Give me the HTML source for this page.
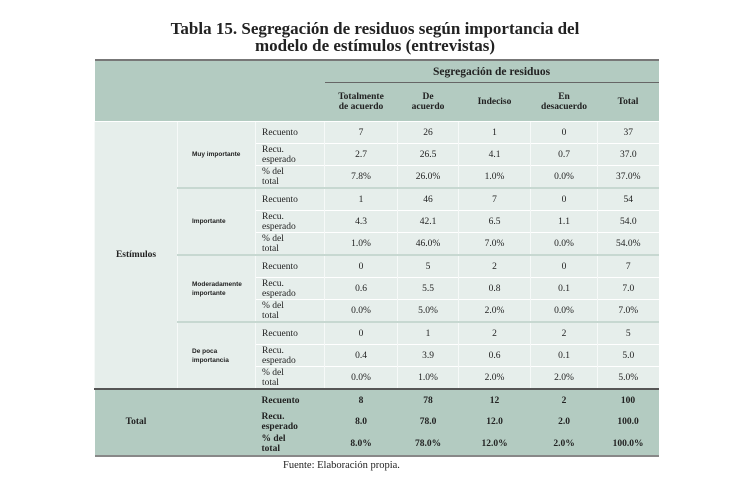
<!DOCTYPE html>
<html><head><meta charset="utf-8"><style>
body{margin:0;width:750px;height:490px;background:#fff;position:relative;font-family:"Liberation Serif",serif;color:#222}
.t{position:absolute;left:0;width:750px;text-align:center;font-weight:bold;font-size:17px;line-height:17px}
table{position:absolute;left:94px;top:59px;border-collapse:collapse;table-layout:fixed;width:564px;font-size:9.5px}
td{padding:0;text-align:center;vertical-align:middle;line-height:10px}
.h td{background:#b3cbc1;font-weight:bold}
.b td{background:#e6eeeb;height:21px;border-top:1px solid #fff;border-left:1px solid #f6f9f8}
.b td.l{text-align:left;padding-left:6px}
.g td{border-top:2px solid #c7d8d1}
.cat{font-family:"Liberation Sans",sans-serif;font-weight:bold;font-size:6.5px;text-align:left!important;padding-left:14px!important;line-height:9px}
.tot td{background:#b3cbc1;font-weight:bold;height:21.5px;border-top:none}
.tot td.l{text-align:left;padding-left:6px}
</style></head><body>
<div class="t" style="top:20px">Tabla 15. Segregación de residuos según importancia del</div>
<div class="t" style="top:37px">modelo de estímulos (entrevistas)</div>
<table>
<colgroup><col style="width:83px"><col style="width:78px"><col style="width:69px"><col style="width:73px"><col style="width:61px"><col style="width:72px"><col style="width:67px"><col style="width:61px"></colgroup>
<tr class="h"><td colspan="3" rowspan="2" style="border-top:2px solid #777"></td><td colspan="5" style="height:21px;border-top:2px solid #777;border-bottom:1px solid #666;font-size:11.5px">Segregación de residuos</td></tr>
<tr class="h"><td style="height:38px">Totalmente<br>de acuerdo</td><td>De<br>acuerdo</td><td>Indeciso</td><td>En<br>desacuerdo</td><td>Total</td></tr>

<tr class="b"><td rowspan="12" style="font-weight:bold">Estímulos</td><td rowspan="3" class="cat">Muy importante</td><td class="l">Recuento</td><td>7</td><td>26</td><td>1</td><td>0</td><td>37</td></tr>
<tr class="b"><td class="l">Recu.<br>esperado</td><td>2.7</td><td>26.5</td><td>4.1</td><td>0.7</td><td>37.0</td></tr>
<tr class="b"><td class="l">% del<br>total</td><td>7.8%</td><td>26.0%</td><td>1.0%</td><td>0.0%</td><td>37.0%</td></tr>

<tr class="b g"><td rowspan="3" class="cat">Importante</td><td class="l">Recuento</td><td>1</td><td>46</td><td>7</td><td>0</td><td>54</td></tr>
<tr class="b"><td class="l">Recu.<br>esperado</td><td>4.3</td><td>42.1</td><td>6.5</td><td>1.1</td><td>54.0</td></tr>
<tr class="b"><td class="l">% del<br>total</td><td>1.0%</td><td>46.0%</td><td>7.0%</td><td>0.0%</td><td>54.0%</td></tr>

<tr class="b g"><td rowspan="3" class="cat">Moderadamente<br>importante</td><td class="l">Recuento</td><td>0</td><td>5</td><td>2</td><td>0</td><td>7</td></tr>
<tr class="b"><td class="l">Recu.<br>esperado</td><td>0.6</td><td>5.5</td><td>0.8</td><td>0.1</td><td>7.0</td></tr>
<tr class="b"><td class="l">% del<br>total</td><td>0.0%</td><td>5.0%</td><td>2.0%</td><td>0.0%</td><td>7.0%</td></tr>

<tr class="b g"><td rowspan="3" class="cat">De poca<br>importancia</td><td class="l">Recuento</td><td>0</td><td>1</td><td>2</td><td>2</td><td>5</td></tr>
<tr class="b"><td class="l">Recu.<br>esperado</td><td>0.4</td><td>3.9</td><td>0.6</td><td>0.1</td><td>5.0</td></tr>
<tr class="b"><td class="l">% del<br>total</td><td>0.0%</td><td>1.0%</td><td>2.0%</td><td>2.0%</td><td>5.0%</td></tr>

<tr class="tot"><td rowspan="3" style="border-top:2px solid #555;border-bottom:2px solid #888">Total</td><td rowspan="3" style="border-top:2px solid #555;border-bottom:2px solid #888"></td><td class="l" style="border-top:2px solid #555">Recuento</td><td style="border-top:2px solid #555">8</td><td style="border-top:2px solid #555">78</td><td style="border-top:2px solid #555">12</td><td style="border-top:2px solid #555">2</td><td style="border-top:2px solid #555">100</td></tr>
<tr class="tot"><td class="l">Recu.<br>esperado</td><td>8.0</td><td>78.0</td><td>12.0</td><td>2.0</td><td>100.0</td></tr>
<tr class="tot" style="border-bottom:2px solid #888"><td class="l">% del<br>total</td><td>8.0%</td><td>78.0%</td><td>12.0%</td><td>2.0%</td><td>100.0%</td></tr>
</table>
<div style="position:absolute;left:283px;top:460px;font-size:10.5px">Fuente: Elaboración propia.</div>
</body></html>
